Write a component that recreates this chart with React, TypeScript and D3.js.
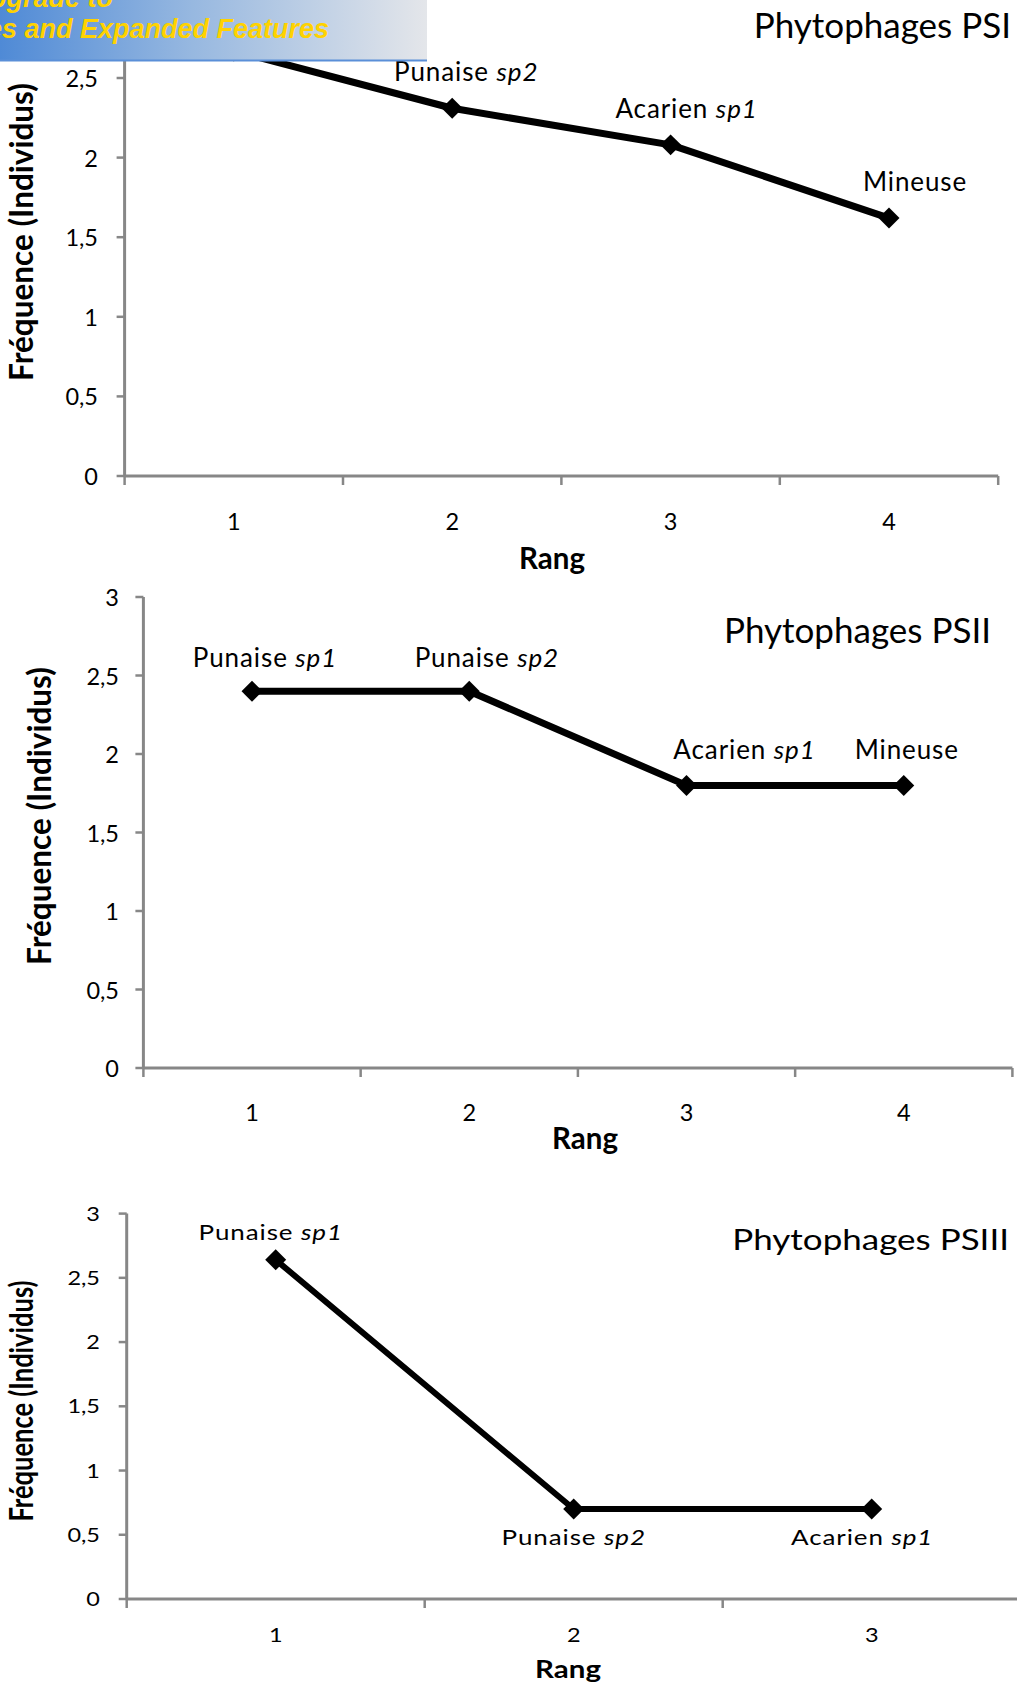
import React from "react";
import * as d3 from "d3";

const FONT = "Lato, 'Open Sans', sans-serif";
const AXIS_COLOR = "#878787";

// ---- data ----
const yTicks = [0, 0.5, 1, 1.5, 2, 2.5, 3];
const yTickLabels = ["0", "0,5", "1", "1,5", "2", "2,5", "3"];

const ranksPSI = [1, 2, 3, 4];
const valuesPSI = [2.67, 2.31, 2.08, 1.62];
const namesPSI = ["Punaise", "Punaise", "Acarien", "Mineuse"];
const speciesPSI = ["sp1", "sp2", "sp1", ""];

const ranksPSII = [1, 2, 3, 4];
const valuesPSII = [2.4, 2.4, 1.8, 1.8];
const namesPSII = ["Punaise", "Punaise", "Acarien", "Mineuse"];
const speciesPSII = ["sp1", "sp2", "sp1", ""];

const ranksPSIII = [1, 2, 3];
const valuesPSIII = [2.64, 0.7, 0.7];
const namesPSIII = ["Punaise", "Punaise", "Acarien"];
const speciesPSIII = ["sp1", "sp2", "sp1"];

const chartTitles = ["Phytophages PSI", "Phytophages PSII", "Phytophages PSIII"];
const xTitle = "Rang";
const yTitle = "Fréquence (Individus)";

const bannerLine1 = "Click to buy NOW! Upgrade to";
const bannerLine2 = "Unlimited Pages and Expanded Features";

// ---- layout (positions/styles only) ----
type Layout = {
  x0: number; band: number; y0: number; yTop: number; vs: number;
  yLabelX: number; yLabelY: number; tickRight: number; xTickBase: number;
  rangX: number; rangBase: number; titleRight: number; titleBase: number;
  labelOff: ([number, number] | null)[]; lineW: number;
};

const layouts: Layout[] = [
  { x0: 124.6, band: 218.4, y0: 476, yTop: -1.6, vs: 1, yLabelX: 33, yLabelY: 232,
    tickRight: 98, xTickBase: 530, rangX: 552, rangBase: 569, titleRight: 1011, titleBase: 38,
    // first label lies under the banner in the reference (not visible)
    labelOff: [null, [14, -27], [16, -27], [26, -27]], lineW: 7 },
  { x0: 143.4, band: 217.25, y0: 1068, yTop: 597, vs: 1, yLabelX: 51, yLabelY: 816,
    tickRight: 119, xTickBase: 1121, rangX: 585, rangBase: 1149, titleRight: 991, titleBase: 643,
    labelOff: [[13, -24], [17.6, -24], [58, -26.5], [3, -26]], lineW: 7 },
  { x0: 126.7, band: 298, y0: 1599, yTop: 1213.6, vs: 0.81, yLabelX: 33, yLabelY: 1401,
    tickRight: 100, xTickBase: 1642, rangX: 568, rangBase: 1678, titleRight: 1009, titleBase: 1250,
    labelOff: [[-5, -20], [0, 36], [-9.5, 36]], lineW: 6 },
];

type Props = {
  ranks: number[]; values: number[]; names: string[]; species: string[];
  title: string; L: Layout;
};

function Chart({ ranks, values, names, species, title, L }: Props) {
  const x = d3.scaleBand<number>().domain(ranks).range([L.x0, L.x0 + ranks.length * L.band]).padding(0);
  const y = d3.scaleLinear().domain([0, 3]).range([L.y0, L.yTop]);
  const cx = (r: number) => (x(r) as number) + x.bandwidth() / 2;
  const line = d3.line<number>().x((_, i) => cx(ranks[i])).y((v) => y(v));
  const diamond = d3.symbol().type(d3.symbolSquare).size(220)();
  const boundaries = d3.range(ranks.length + 1).map((i) => L.x0 + i * x.bandwidth());
  const st = (px: number, py: number) => `translate(${px},${py}) scale(1,${L.vs})`;

  return (
    <g fontFamily={FONT}>
      {/* axes */}
      <line x1={L.x0} x2={L.x0} y1={y(0)} y2={y(3)} stroke={AXIS_COLOR} strokeWidth={3} />
      <line x1={L.x0} x2={boundaries[boundaries.length - 1]} y1={y(0)} y2={y(0)} stroke={AXIS_COLOR} strokeWidth={3} />
      {yTicks.map((t) => (
        <line key={"yt" + t} x1={L.x0 - 8} x2={L.x0} y1={y(t)} y2={y(t)} stroke={AXIS_COLOR} strokeWidth={2.5} />
      ))}
      {boundaries.map((b, i) => (
        <line key={"xt" + i} x1={b} x2={b} y1={y(0)} y2={y(0) + 9} stroke={AXIS_COLOR} strokeWidth={2.5} />
      ))}
      {yTicks.map((t, i) => (
        <text key={"yl" + t} transform={st(L.tickRight, y(t))} textAnchor="end" dominantBaseline="central"
          fontSize={23.5} fill="#000">{yTickLabels[i]}</text>
      ))}
      {ranks.map((r) => (
        <text key={"xl" + r} transform={st(cx(r), L.xTickBase)} textAnchor="middle" fontSize={23.5} fill="#000">{r}</text>
      ))}
      <text transform={st(L.rangX, L.rangBase)} textAnchor="middle" fontSize={29.5} fontWeight="bold" fill="#000">{xTitle}</text>
      <text transform={`translate(${L.yLabelX},${L.yLabelY}) scale(1,${L.vs}) rotate(-90)`} textAnchor="middle"
        fontSize={31.5} fontWeight="bold" fill="#000">{yTitle}</text>
      <text transform={st(L.titleRight, L.titleBase)} textAnchor="end" fontSize={35} fill="#000">{title}</text>

      {/* series */}
      <path d={line(values) as string} fill="none" stroke="#000" strokeWidth={L.lineW} strokeLinejoin="round" />
      {values.map((v, i) => (
        <path key={"m" + i} d={diamond as string} transform={`translate(${cx(ranks[i])},${y(v)}) rotate(45)`} fill="#000" />
      ))}
      {values.map((v, i) => {
        const off = L.labelOff[i];
        if (!off) return null;
        return (
          <text key={"dl" + i} transform={st(cx(ranks[i]) + off[0], y(v) + off[1])}
            textAnchor="middle" fontSize={26} letterSpacing={0.9} fill="#000">
            {names[i]}
            {species[i] ? " " : ""}
            {species[i] ? <tspan fontStyle="italic">{species[i]}</tspan> : null}
          </text>
        );
      })}
    </g>
  );
}

export default function App() {
  return (
    <svg width={1017} height={1684} viewBox="0 0 1017 1684"
      style={{ position: "absolute", left: 0, top: 0, background: "#fff" }}>
      <defs>
        <linearGradient id="bannerGrad" x1="0" x2="1" y1="0" y2="0">
          <stop offset="0" stopColor="#4f8ad6" />
          <stop offset="0.45" stopColor="#97b8e0" />
          <stop offset="1" stopColor="#e4e6ea" />
        </linearGradient>
      </defs>
      <rect x={0} y={0} width={1017} height={1684} fill="#fff" />
      <Chart ranks={ranksPSI} values={valuesPSI} names={namesPSI} species={speciesPSI} title={chartTitles[0]} L={layouts[0]} />
      <Chart ranks={ranksPSII} values={valuesPSII} names={namesPSII} species={speciesPSII} title={chartTitles[1]} L={layouts[1]} />
      <Chart ranks={ranksPSIII} values={valuesPSIII} names={namesPSIII} species={speciesPSIII} title={chartTitles[2]} L={layouts[2]} />

      {/* overlay banner */}
      <g>
        <rect x={0} y={0} width={427} height={61} fill="url(#bannerGrad)" />
        <line x1={0} x2={427} y1={60.5} y2={60.5} stroke="#5a8fd8" strokeWidth={2} />
        <text x={113} y={7} textAnchor="end" fontFamily="'Liberation Sans', Arial, sans-serif" fontWeight="bold"
          fontStyle="italic" fontSize={27} fill="#ffd200">{bannerLine1}</text>
        <text x={329} y={38} textAnchor="end" fontFamily="'Liberation Sans', Arial, sans-serif" fontWeight="bold"
          fontStyle="italic" fontSize={27} fill="#ffd200">{bannerLine2}</text>
      </g>
    </svg>
  );
}
